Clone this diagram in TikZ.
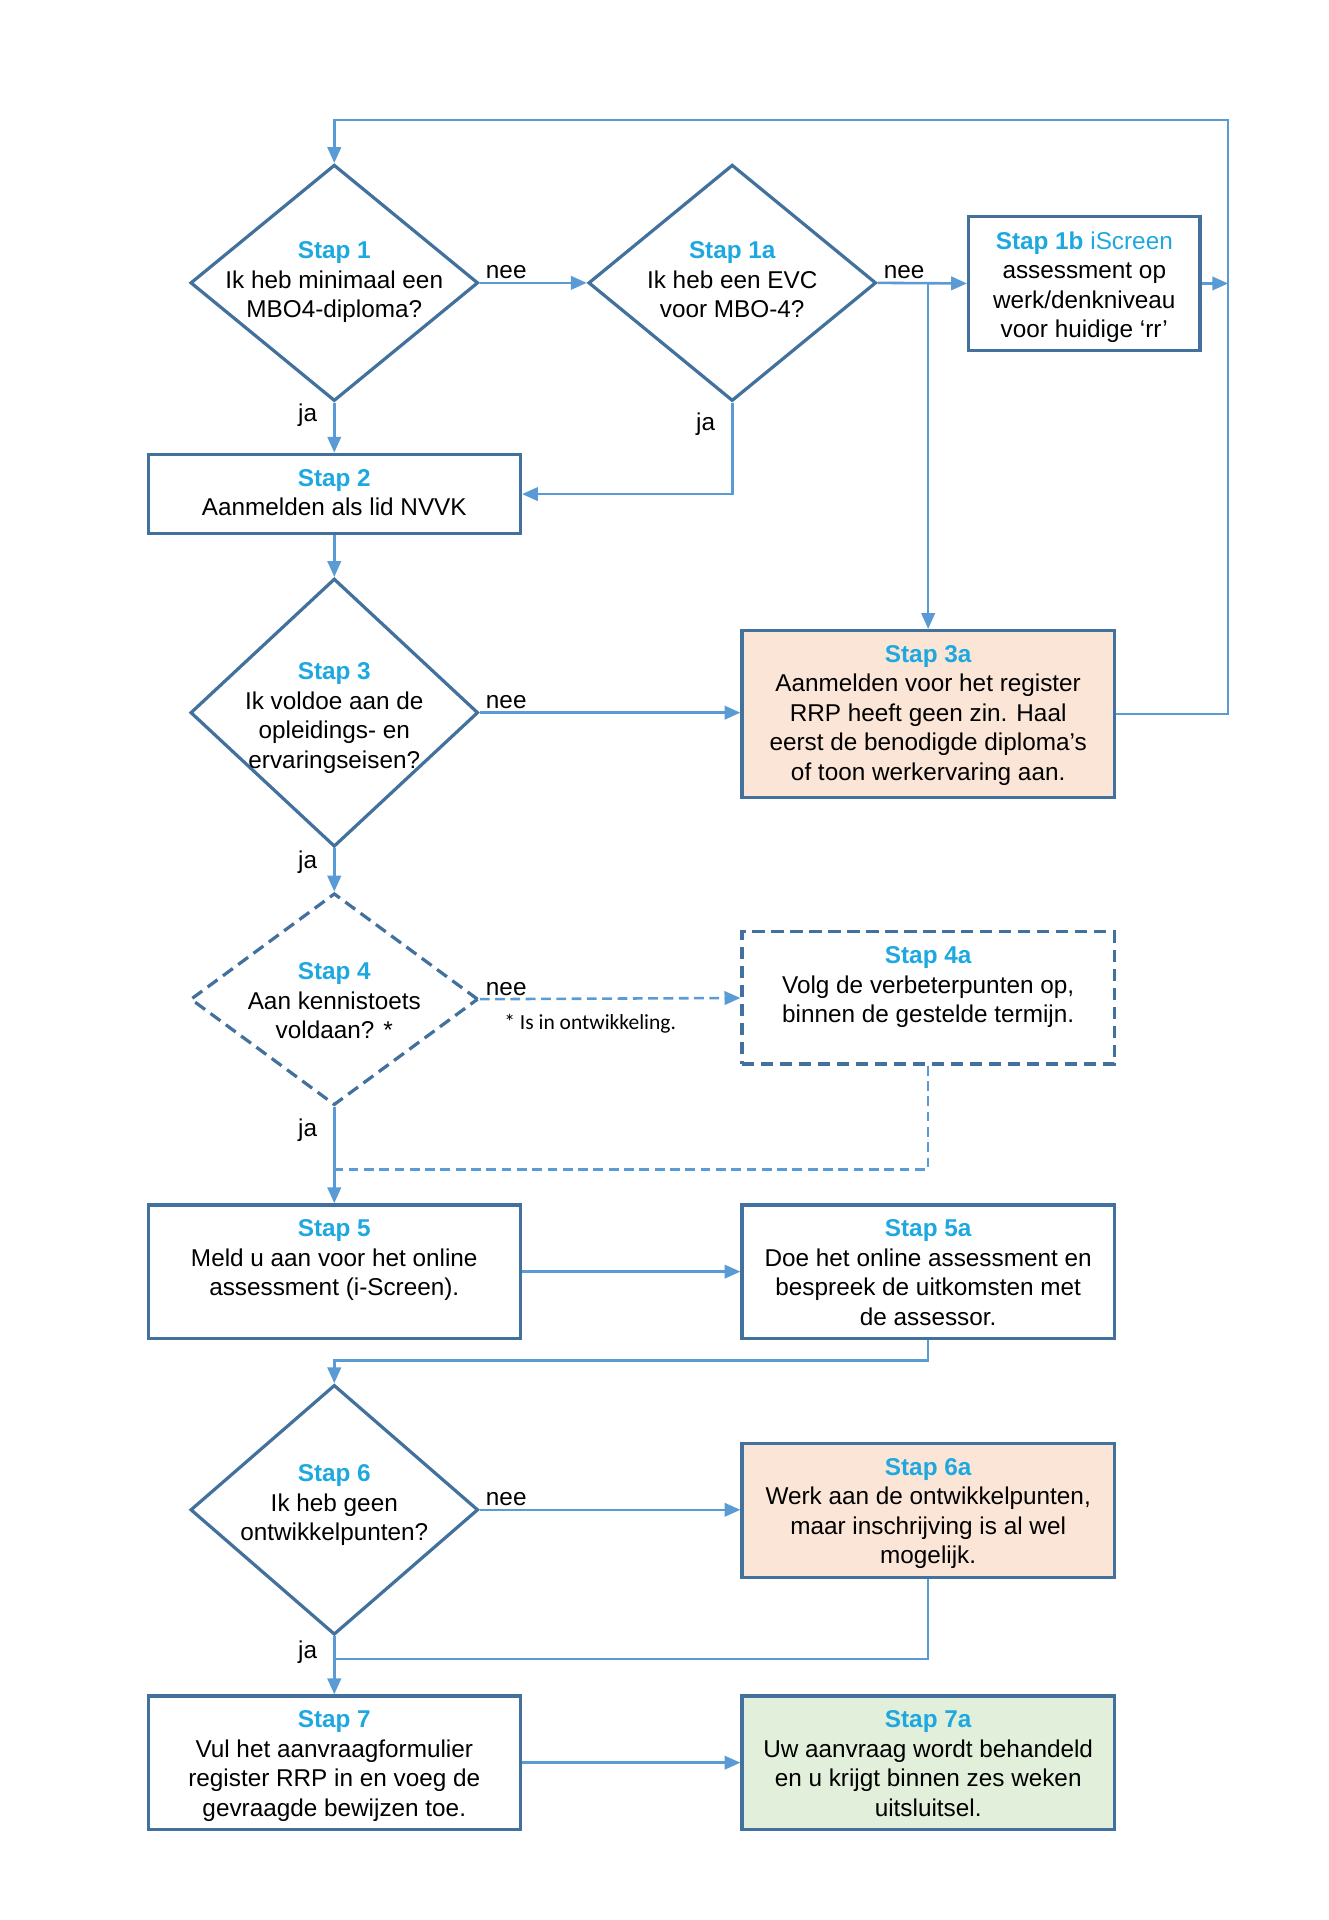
\documentclass[tikz,border=0pt]{standalone}
\usepackage{fontspec}
\setmainfont{Liberation Sans}
\newfontfamily\notefont{Carlito}
\usetikzlibrary{shapes.geometric, arrows.meta, positioning}
\definecolor{stapblue}{RGB}{30,168,224}
\definecolor{edgeblue}{RGB}{65,113,156}
\definecolor{lineblue}{RGB}{91,155,213}
\definecolor{peach}{RGB}{251,229,214}
\definecolor{lightgreen}{RGB}{226,239,218}
\newcommand{\stap}[1]{\textcolor{stapblue}{\bfseries #1}}

\begin{document}
\begin{tikzpicture}[
      x = 0.2mm, y = -0.2mm,
      font = \fontsize{11.3}{13.7}\selectfont,
      decision/.style = {
        diamond,
        draw = edgeblue, line width = 1.5pt,
        inner sep = 0,
        minimum width = 47mm,
      },
      box/.style = {
        rectangle,
        draw = edgeblue, line width = 1.5pt,
        inner sep = 0,
        minimum width = 60.8mm,
        minimum height = 21.8mm,
      },
      txt/.style = {
        align = center,
        inner sep = 0,
      },
      conn/.style = {
        draw = lineblue, line width = 1.2pt,
      },
      arr/.style = {
        conn,
        -{Triangle[length = 2.6mm, width = 2.2mm]},
      },
      dashline/.style = {
        dash pattern = on 1.6mm off 0.9mm,
      },
      dashbox/.style = {
        dash pattern = on 2mm off 1.1mm,
      },
      nee/.style = {
        anchor = south west, inner sep = 0.4mm, xshift = 0.4mm,
      },
      ja/.style = {
        anchor = east, inner sep = 0, xshift = -2.6mm,
      },
    ]
    \useasboundingbox (0,0) rectangle (1085,1568);

    % decisions
    \node[decision, minimum height = 38.6mm] (s1)  at (273,231) {};
    \node[decision, minimum height = 38.6mm] (s1a) at (598,231) {};
    \node[decision, minimum height = 43.8mm] (s3)  at (273,582) {};
    \node[decision, minimum height = 34.6mm, dashbox] (s4) at (273,816) {};
    \node[decision, minimum height = 40.8mm] (s6)  at (273,1233) {};

    \node[txt, anchor = north] (s1t)  at (273,197)  {\stap{Stap 1}\\Ik heb minimaal een\\MBO4-diploma?};
    \node[txt, anchor = north] (s1at) at (598,197)  {\stap{Stap 1a}\\Ik heb een EVC\\voor MBO-4?};
    \node[txt, anchor = north] (s3t)  at (273,541)  {\stap{Stap 3}\\Ik voldoe aan de\\opleidings- en\\ervaringseisen?};
    \node[txt, anchor = north] (s4t)  at (273,786)  {\stap{Stap 4}\\Aan kennistoets\\voldaan? *};
    \node[txt, anchor = north] (s6t)  at (273,1196) {\stap{Stap 6}\\Ik heb geen\\ontwikkelpunten?};

    % boxes
    \node[box, minimum width = 37.8mm] (s1b) at (885.5,231.5) {};
    \node[box, minimum height = 13mm] (s2) at (273,403.5) {};
    \node[box, minimum height = 27.2mm, fill = peach] (s3a) at (758,583) {};
    \node[box, minimum height = 21.6mm, dashbox] (s4a) at (758,815) {};
    \node[box] (s5)  at (273,1038.5) {};
    \node[box] (s5a) at (758,1038.5) {};
    \node[box, fill = peach] (s6a) at (758,1233.5) {};
    \node[box] (s7)  at (273,1439.5) {};
    \node[box, fill = lightgreen] (s7a) at (758,1439.5) {};

    \node[txt, below = 2.6mm of s1b.north] (s1bt) {\stap{Stap 1b} \textcolor{stapblue}{iScreen}\\assessment op\\werk/denkniveau\\voor huidige ‘rr’};
    \node[txt, below = 2.6mm of s2.north]  (s2t)  {\stap{Stap 2}\\Aanmelden als lid NVVK};
    \node[txt, below = 2.6mm of s3a.north] (s3at) {\stap{Stap 3a}\\Aanmelden voor het register\\RRP heeft geen zin. Haal\\eerst de benodigde diploma’s\\of toon werkervaring aan.};
    \node[txt, below = 2.6mm of s4a.north] (s4at) {\stap{Stap 4a}\\Volg de verbeterpunten op,\\binnen de gestelde termijn.};
    \node[txt, below = 2.6mm of s5.north]  (s5t)  {\stap{Stap 5}\\Meld u aan voor het online\\assessment (i-Screen).};
    \node[txt, below = 2.6mm of s5a.north] (s5at) {\stap{Stap 5a}\\Doe het online assessment en\\bespreek de uitkomsten met\\de assessor.};
    \node[txt, below = 2.6mm of s6a.north] (s6at) {\stap{Stap 6a}\\Werk aan de ontwikkelpunten,\\maar inschrijving is al wel\\mogelijk.};
    \node[txt, below = 2.6mm of s7.north]  (s7t)  {\stap{Stap 7}\\Vul het aanvraagformulier\\register RRP in en voeg de\\gevraagde bewijzen toe.};
    \node[txt, below = 2.6mm of s7a.north] (s7at) {\stap{Stap 7a}\\Uw aanvraag wordt behandeld\\en u krijgt binnen zes weken\\uitsluitsel.};

    \node[font = \notefont\fontsize{10}{12}\selectfont] (note) at (482,836) {* Is in ontwikkeling.};

    % helper points
    \coordinate (loop) at (1003,98);
    \coordinate (j4) at (273,955);
    \coordinate (j5) at (273,1111);
    \coordinate (j6) at (273,1355);

    % connectors
    \draw[arr] (s1.east) -- (s1a.west) node[nee, pos = 0] {nee};
    \draw[arr] (s1a.east) -- (s1b.west) node[nee, pos = 0] {nee};
    \draw[arr] (s1a.east -| s3a.north) -- (s3a.north);
    \draw[arr] (s1b.east) -- (s1b.east -| loop);
    \draw[arr] (s3a.east) -| (loop) -| (s1.north);

    \draw[arr] (s1.south) -- (s2.north) node[ja, pos = 0.25] {ja};
    \draw[arr] (s1a.south) |- (s2.east) node[ja, pos = 0.12] {ja};
    \draw[arr] (s2.south) -- (s3.north);

    \draw[arr] (s3.east) -- (s3.east -| s3a.west) node[nee, pos = 0] {nee};
    \draw[arr] (s3.south) -- (s4.north) node[ja, pos = 0.33] {ja};

    \draw[arr, dashline] (s4.east) -- (s4a.west) node[nee, pos = 0] {nee};
    \draw[arr] (s4.south) -- (s5.north) node[ja, pos = 0.24] {ja};
    \draw[conn, dashline] (s4a.south) |- (j4);

    \draw[arr] (s5.east) -- (s5a.west);
    \draw[arr] (s5a.south) |- (j5) -- (s6.north);

    \draw[arr] (s6.east) -- (s6.east -| s6a.west) node[nee, pos = 0] {nee};
    \draw[conn] (s6a.south) |- (j6);
    \draw[arr] (s6.south) -- (s7.north) node[ja, pos = 0.28] {ja};

    \draw[arr] (s7.east) -- (s7a.west);

  \end{tikzpicture}
\end{document}
